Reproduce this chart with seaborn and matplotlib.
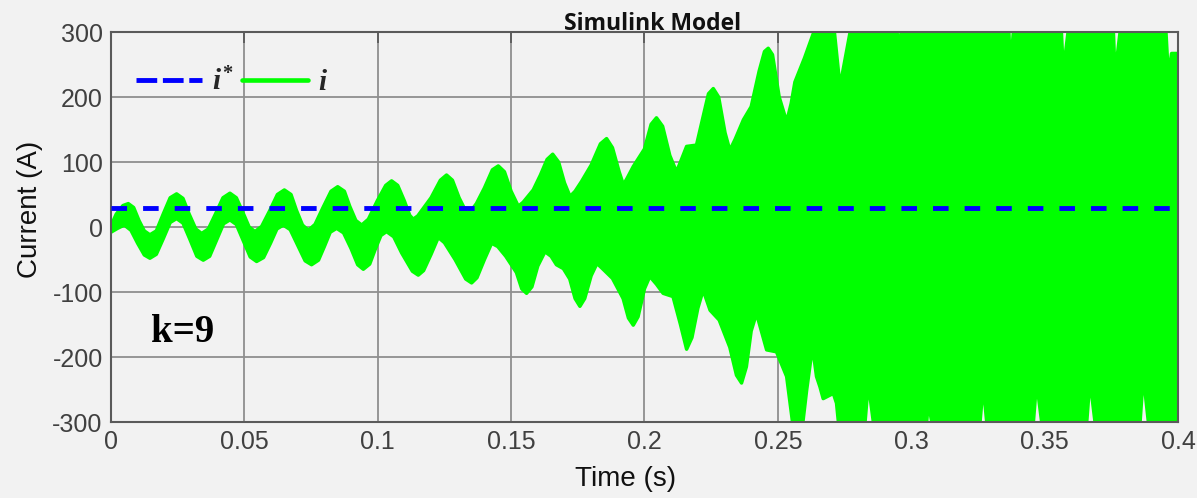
import matplotlib
matplotlib.use("Agg")
import matplotlib.pyplot as plt
import seaborn as sns
from matplotlib.lines import Line2D

# ---------------- data ----------------
# upper edge of the measured-current band i (time s, current A)
upper_t = [0.000, 0.0020, 0.0045, 0.0065, 0.0085, 0.0105, 0.0125, 0.0146, 0.0170, 0.0196,
           0.0222, 0.0246, 0.0270, 0.0293, 0.0318, 0.0340, 0.0365, 0.0393, 0.0420, 0.0446,
           0.0470, 0.0495, 0.0518, 0.0540, 0.0565, 0.0595, 0.0624, 0.0650, 0.0675, 0.0695,
           0.0718, 0.0740, 0.0765, 0.0795, 0.0825, 0.0850, 0.0875, 0.0895, 0.0918, 0.0940,
           0.0965, 0.0998, 0.1030, 0.1052, 0.1075, 0.1100, 0.1120, 0.1133, 0.1150, 0.1200,
           0.1235, 0.1258, 0.1280, 0.1305, 0.1333, 0.1350, 0.1370, 0.1400, 0.1430, 0.1452,
           0.1475, 0.1500, 0.1527, 0.1545, 0.1583, 0.1610, 0.1635, 0.1656, 0.1678, 0.1700,
           0.1721, 0.1740, 0.1764, 0.1800, 0.1835, 0.1858, 0.1880, 0.1905, 0.1921, 0.1935,
           0.1958, 0.2000, 0.2025, 0.2045, 0.2068, 0.2095, 0.2120, 0.2135, 0.2158, 0.2195,
           0.2220, 0.2240, 0.2258, 0.2278, 0.2302, 0.2320, 0.2340, 0.2371, 0.2400, 0.2430,
           0.2450, 0.2464, 0.2480, 0.2505, 0.2533, 0.2550, 0.2564, 0.2600, 0.2635, 0.2712,
           0.2733, 0.2771, 0.2947, 0.2954, 0.2962, 0.3164, 0.3168, 0.3175, 0.3366, 0.3372,
           0.3383, 0.3563, 0.3570, 0.3588, 0.3758, 0.3764, 0.3783, 0.3955, 0.3964, 0.3976,
           0.4000]
upper_v = [2, 20, 33, 36, 30, 10, -6, -12, -6, 20,
           45, 51, 44, 20, -3, -10, -3, 21, 45, 52,
           45, 22, 0, -7, 1, 25, 50, 57, 50, 26,
           3, -5, 4, 30, 55, 62, 55, 32, 10, 3,
           12, 40, 64, 71, 64, 40, 18, 12, 17, 45,
           72, 80, 72, 45, 22, 25, 36, 60, 88, 94,
           85, 55, 32, 38, 57, 80, 104, 112, 100, 68,
           47, 55, 70, 95, 128, 136, 122, 85, 65, 75,
           93, 120, 158, 168, 155, 110, 85, 100, 124, 126,
           170, 205, 213, 200, 145, 118, 135, 165, 185, 240,
           270, 275, 265, 200, 162, 190, 223, 260, 300, 300,
           216, 300, 300, 268, 300, 300, 267, 300, 300, 245,
           300, 300, 239, 300, 300, 234, 300, 300, 231, 267,
           267]

# lower edge of the measured-current band i
lower_t = [0.000, 0.0025, 0.0050, 0.0075, 0.0100, 0.0125, 0.0146, 0.0170, 0.0196, 0.0222,
           0.0246, 0.0270, 0.0296, 0.0322, 0.0346, 0.0370, 0.0396, 0.0422, 0.0446, 0.0470,
           0.0496, 0.0522, 0.0546, 0.0572, 0.0598, 0.0622, 0.0646, 0.0672, 0.0700, 0.0728,
           0.0752, 0.0778, 0.0800, 0.0822, 0.0846, 0.0872, 0.0900, 0.0925, 0.0946, 0.0970,
           0.0990, 0.1012, 0.1033, 0.1060, 0.1090, 0.1130, 0.1152, 0.1172, 0.1200, 0.1227,
           0.1250, 0.1290, 0.1330, 0.1352, 0.1372, 0.1400, 0.1427, 0.1450, 0.1480, 0.1520,
           0.1540, 0.1558, 0.1578, 0.1600, 0.1627, 0.1650, 0.1670, 0.1696, 0.1720, 0.1740,
           0.1758, 0.1776, 0.1800, 0.1822, 0.1845, 0.1880, 0.1920, 0.1940, 0.1958, 0.1976,
           0.2000, 0.2020, 0.2045, 0.2070, 0.2107, 0.2135, 0.2158, 0.2178, 0.2200, 0.2220,
           0.2246, 0.2280, 0.2320, 0.2345, 0.2364, 0.2382, 0.2400, 0.2420, 0.2458, 0.2495,
           0.2533, 0.2555, 0.2594, 0.2608, 0.2630, 0.2645, 0.2658, 0.2670, 0.2708, 0.2720,
           0.2727, 0.2827, 0.2839, 0.2858, 0.3058, 0.3064, 0.3077, 0.3258, 0.3270, 0.3283,
           0.3458, 0.3470, 0.3489, 0.3658, 0.3670, 0.3689, 0.3858, 0.3870, 0.3889, 0.4000]
lower_v = [-8, -2, 3, -5, -25, -43, -48, -42, -18, 7,
           13, 6, -19, -45, -51, -45, -20, 5, 11, 4,
           -21, -46, -53, -47, -25, -3, 3, -4, -28, -52,
           -58, -51, -30, -8, -2, -9, -33, -58, -65, -57,
           -35, -13, -7, -15, -40, -68, -74, -67, -42, -16,
           -24, -50, -80, -86, -78, -50, -25, -30, -45, -70,
           -95, -102, -92, -60, -38, -45, -58, -64, -80, -110,
           -122, -110, -75, -56, -65, -79, -110, -140, -151, -138,
           -95, -76, -88, -102, -107, -150, -188, -170, -125, -97,
           -128, -143, -185, -228, -240, -215, -160, -133, -189, -192,
           -230, -300, -300, -251, -184, -230, -246, -264, -256, -271,
           -300, -300, -240, -300, -300, -269, -300, -300, -243, -300,
           -300, -238, -300, -300, -235, -300, -300, -228, -300, -300]

# reference current i*
ref_t = [0.0, 0.4]
ref_v = [30, 30]

xticks = [0, 0.05, 0.1, 0.15, 0.2, 0.25, 0.3, 0.35, 0.4]
xtick_labels = ["0", "0.05", "0.1", "0.15", "0.2", "0.25", "0.3", "0.35", "0.4"]
yticks = [-300, -200, -100, 0, 100, 200, 300]
ytick_labels = ["-300", "-200", "-100", "0", "100", "200", "300"]

# ---------------- style ----------------
sns.set_style("white")
plt.rcParams["font.family"] = ["Liberation Sans", "DejaVu Sans"]
plt.rcParams["mathtext.fontset"] = "custom"
plt.rcParams["mathtext.it"] = "Liberation Serif:italic:bold"
plt.rcParams["mathtext.rm"] = "Liberation Serif:bold"
plt.rcParams["mathtext.bf"] = "Liberation Serif:bold"

BG = "#f2f2f2"
GREEN = "#00ff00"
BLUE = "#0000ff"

fig = plt.figure(figsize=(11.97, 4.98), dpi=100, facecolor=BG)
ax = fig.add_axes([0.0927, 0.1526, 0.8914, 0.7831])
ax.set_facecolor(BG)

# measured current band
poly_x = upper_t + lower_t[::-1]
poly_y = upper_v + lower_v[::-1]
ax.fill(poly_x, poly_y, facecolor=GREEN, edgecolor=GREEN, lw=2.5,
        joinstyle="round", zorder=2)

# reference current
sns.lineplot(x=ref_t, y=ref_v, ax=ax, color=BLUE, lw=3.5,
             linestyle=(0, (3.2, 3.3)), zorder=3, legend=False)

ax.set_xlim(0, 0.4)
ax.set_ylim(-300, 300)
ax.set_xticks(xticks, labels=xtick_labels)
ax.set_yticks(yticks, labels=ytick_labels)

ax.grid(True, color="#8f8f8f", lw=1.3)
ax.set_axisbelow(True)
for s in ax.spines.values():
    s.set_visible(True)
    s.set_color("#5a5a5a")
    s.set_linewidth(1.5)

ax.tick_params(direction="in", length=8, width=1.2, color="#555555",
               top=True, right=True, labelsize=18, labelcolor="#404040", pad=6)

ax.set_xlabel("Time (s)", fontsize=20, color="#111111")
ax.set_ylabel("Current (A)", fontsize=20, color="#111111")
ax.xaxis.set_label_coords(0.4827, -0.113)
ax.yaxis.set_label_coords(-0.0637, 0.545)

ax.set_title("Simulink Model", fontsize=16.5, fontweight="bold",
             family=["Open Sans", "DejaVu Sans"], x=0.508, pad=1.5, color="#111111")

handles = [Line2D([], [], color=BLUE, lw=3.5, linestyle=(0, (4.26, 1.17))),
           Line2D([], [], color=GREEN, lw=3.3)]
ax.legend(handles, [r"$i^{*}$", r"$i$"], loc="center left",
          bbox_to_anchor=(0.0234, 0.8715), ncol=2, frameon=False, fontsize=21,
          handlelength=2.26, handletextpad=0.34, columnspacing=0.3,
          borderpad=0, borderaxespad=0)

ax.text(0.0372, 0.2057, "k=9", transform=ax.transAxes, fontsize=28,
        fontweight="bold", family=["Liberation Serif", "DejaVu Serif"],
        va="baseline", ha="left", color="#000000")

fig.savefig("out.png", dpi=100, facecolor=BG)
